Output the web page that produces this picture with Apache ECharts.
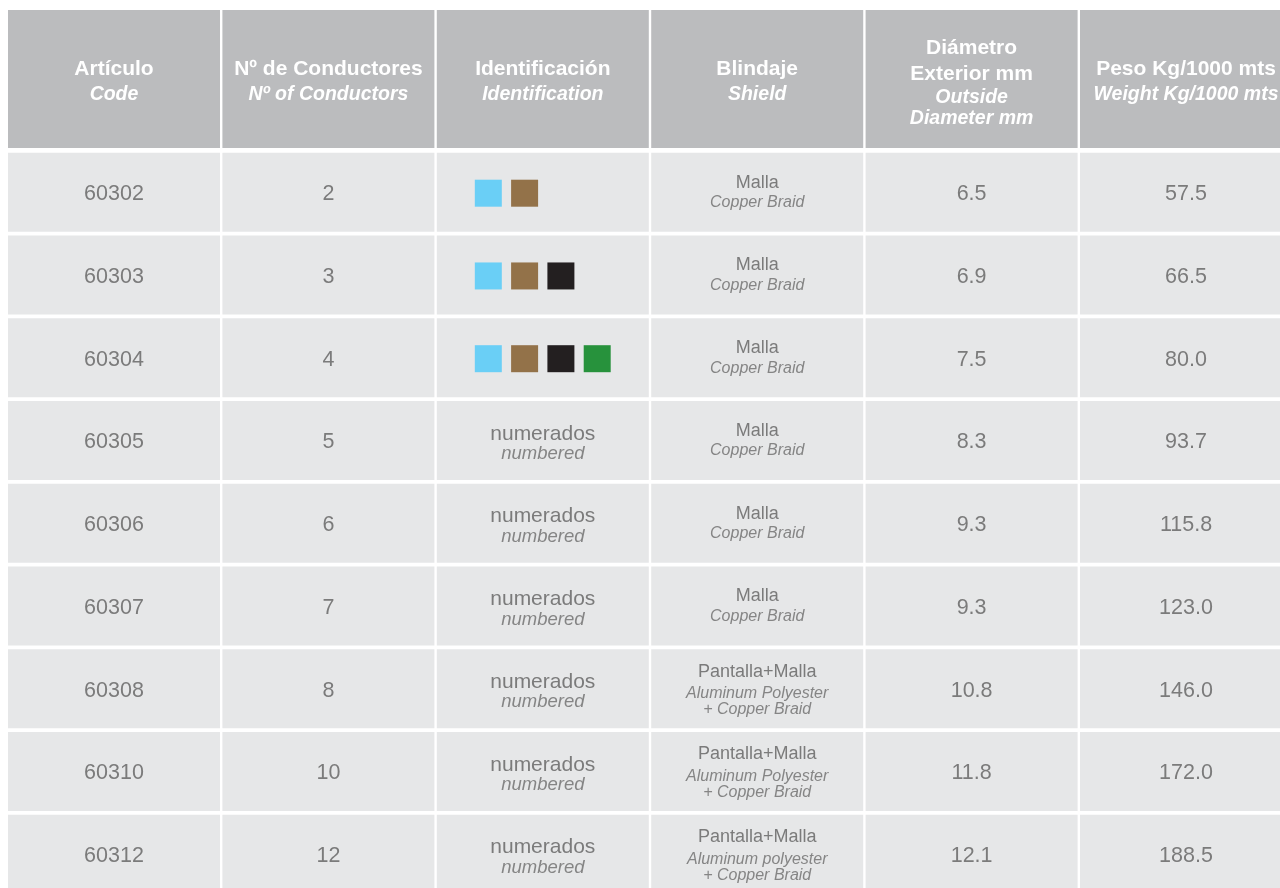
<!DOCTYPE html>
<html>
<head>
<meta charset="utf-8">
<script src="https://cdn.jsdelivr.net/npm/echarts@6/dist/echarts.min.js"></script>
<style>
html,body{margin:0;padding:0;background:#fff;}
#chart{width:1280px;height:888px;}
</style>
</head>
<body>
<div id="chart"></div>
<script>
// ---- data ----
const headerMain = [['Artículo'], ['Nº de Conductores'], ['Identificación'], ['Blindaje'], ['Diámetro', 'Exterior mm'], ['Peso Kg/1000 mts']];
const headerSub = [['Code'], ['Nº of Conductors'], ['Identification'], ['Shield'], ['Outside', 'Diameter mm'], ['Weight Kg/1000 mts']];
const codes = ['60302', '60303', '60304', '60305', '60306', '60307', '60308', '60310', '60312'];
const conductors = [2, 3, 4, 5, 6, 7, 8, 10, 12];
const wireColors = ['#6acff6', '#937249', '#231f20', '#27923c'];
const wireCounts = [2, 3, 4, 0, 0, 0, 0, 0, 0];
const identEs = ['', '', '', 'numerados', 'numerados', 'numerados', 'numerados', 'numerados', 'numerados'];
const identEn = ['', '', '', 'numbered', 'numbered', 'numbered', 'numbered', 'numbered', 'numbered'];
const shieldEs = ['Malla', 'Malla', 'Malla', 'Malla', 'Malla', 'Malla', 'Pantalla+Malla', 'Pantalla+Malla', 'Pantalla+Malla'];
const shieldEn = [['Copper Braid'], ['Copper Braid'], ['Copper Braid'], ['Copper Braid'], ['Copper Braid'], ['Copper Braid'],
  ['Aluminum Polyester', '+ Copper Braid'], ['Aluminum Polyester', '+ Copper Braid'], ['Aluminum polyester', '+ Copper Braid']];
const diameters = [6.5, 6.9, 7.5, 8.3, 9.3, 9.3, 10.8, 11.8, 12.1];
const weights = [57.5, 66.5, 80.0, 93.7, 115.8, 123.0, 146.0, 172.0, 188.5];

// ---- layout / style ----
const FONT = '"Liberation Sans", Arial, sans-serif';
const HEAD_BG = '#bbbcbe', CELL_BG = '#e6e7e8';
const TXT = '#7b7b7b', TXT2 = '#858585';
const HEAD_TOP = -1.7245;
const COL_GAP = 2.4, ROW_GAP = 3.75, HEAD_GAP = 4.7;

const cells = [];
for (let c = 0; c < 6; c++) cells.push([c, -1]);
for (let r = 0; r < codes.length; r++) for (let c = 0; c < 6; c++) cells.push([c, r]);

function txt(x, y, text, rich, font) {
  const s = { x: x, y: y, text: text, align: 'center', verticalAlign: 'middle', fontFamily: FONT };
  if (rich) s.rich = rich;
  if (font) Object.assign(s, font);
  return { type: 'text', style: s };
}

function renderItem(params, api) {
  const c = api.value(0), r = api.value(1);
  const isHead = r < 0;
  const p0 = api.coord([c, isHead ? HEAD_TOP : r]);
  const p1 = api.coord([c + 1, isHead ? 0 : r + 1]);
  const x = p0[0], y = p0[1];
  const w = p1[0] - p0[0] - COL_GAP;
  const h = p1[1] - p0[1] - (isHead ? HEAD_GAP : ROW_GAP);
  const cx = x + w / 2, cy = y + h / 2;
  const ch = [{ type: 'rect', shape: { x: x, y: y, width: w, height: h }, style: { fill: isHead ? HEAD_BG : CELL_BG } }];
  if (isHead) {
    const m = headerMain[c], s = headerSub[c];
    const two = m.length > 1;
    const rich = {
      a: { fontFamily: FONT, fontSize: 21, fontWeight: 'bold', fill: '#fff', lineHeight: two ? 26 : 25 },
      b: { fontFamily: FONT, fontSize: 19.5, fontWeight: 'bold', fontStyle: 'italic', fill: '#fff', lineHeight: two ? 21 : 25 }
    };
    const t = m.map(v => '{a|' + v + '}').concat(s.map(v => '{b|' + v + '}')).join('\n');
    ch.push(txt(cx, cy + 3, t, rich));
  } else {
    const numFont = { fontSize: 21.5, fill: TXT };
    if (c === 0) ch.push(txt(cx, cy + 2, codes[r], null, numFont));
    else if (c === 1) ch.push(txt(cx, cy + 2, String(conductors[r]), null, numFont));
    else if (c === 2) {
      if (wireCounts[r] > 0) {
        for (let k = 0; k < wireCounts[r]; k++) {
          ch.push({ type: 'rect', shape: { x: x + 38 + k * 36.3, y: cy - 12.5, width: 27, height: 27 }, style: { fill: wireColors[k] } });
        }
      } else {
        const rich = {
          a: { fontFamily: FONT, fontSize: 21, fill: TXT, lineHeight: 20 },
          b: { fontFamily: FONT, fontSize: 18.5, fontStyle: 'italic', fill: TXT2, lineHeight: 20 }
        };
        ch.push(txt(cx, cy + 3.5, '{a|' + identEs[r] + '}\n{b|' + identEn[r] + '}', rich));
      }
    } else if (c === 3) {
      const sub = shieldEn[r];
      const three = sub.length > 1;
      const rich = {
        a: { fontFamily: FONT, fontSize: 18, fill: TXT, lineHeight: three ? 28 : 20 },
        b: { fontFamily: FONT, fontSize: 16, fontStyle: 'italic', fill: TXT2, lineHeight: three ? 16 : 20 }
      };
      const t = '{a|' + shieldEs[r] + '}\n' + sub.map(v => '{b|' + v + '}').join('\n');
      ch.push(txt(cx, cy + (three ? -1 : 0.5), t, rich));
    } else if (c === 4) ch.push(txt(cx, cy + 2, diameters[r].toFixed(1), null, numFont));
    else if (c === 5) ch.push(txt(cx, cy + 2, weights[r].toFixed(1), null, numFont));
  }
  return { type: 'group', children: ch };
}

const chart = echarts.init(document.getElementById('chart'), null, { renderer: 'canvas' });
chart.setOption({
  animation: false,
  backgroundColor: '#ffffff',
  grid: { left: 8, right: 0, top: 10, bottom: 0 },
  xAxis: { type: 'value', min: 0, max: 5.9328, show: false },
  yAxis: { type: 'value', min: HEAD_TOP, max: 8.8858, inverse: true, show: false },
  series: [{
    type: 'custom',
    renderItem: renderItem,
    data: cells,
    clip: false,
    silent: true
  }]
});
</script>
</body>
</html>
